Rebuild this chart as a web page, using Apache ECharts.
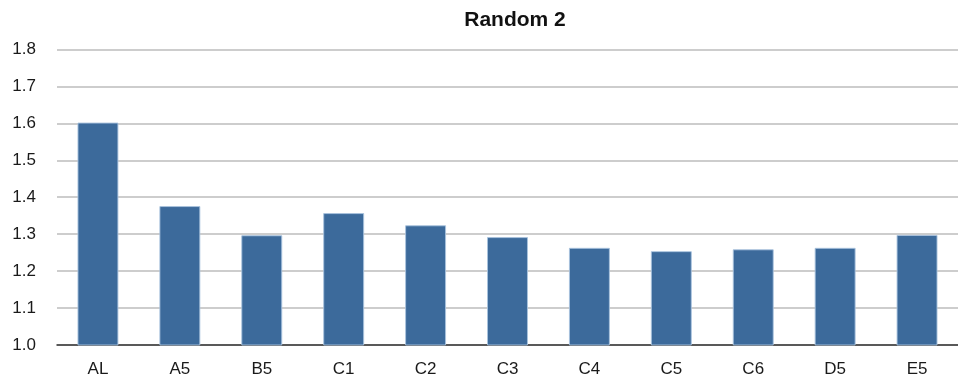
<!DOCTYPE html>
<html>
<head>
<meta charset="utf-8">
<script src="https://cdn.jsdelivr.net/npm/echarts@6/dist/echarts.min.js"></script>
<style>
  html, body { margin: 0; padding: 0; background: #fff; }
  #chart { width: 958px; height: 379px; }
</style>
</head>
<body>
<div id="chart"></div>
<script>
// Categories and values for the bar chart
const categories = ['AL', 'A5', 'B5', 'C1', 'C2', 'C3', 'C4', 'C5', 'C6', 'D5', 'E5'];
const values = [1.602, 1.376, 1.297, 1.357, 1.324, 1.292, 1.263, 1.254, 1.259, 1.263, 1.298];
const yTicks = [1.0, 1.1, 1.2, 1.3, 1.4, 1.5, 1.6, 1.7, 1.8];

const FONT = 'Liberation Sans, Arial, Helvetica, sans-serif';
const chart = echarts.init(document.getElementById('chart'), null, { renderer: 'canvas' });

chart.setOption({
  animation: false,
  backgroundColor: '#ffffff',
  title: {
    text: 'Random 2',
    left: 510,
    textAlign: 'center',
    top: 5,
    textStyle: {
      fontFamily: FONT,
      fontSize: 21,
      fontWeight: 'bold',
      color: '#111'
    }
  },
  grid: { left: 57, width: 905, top: 49.4, bottom: 34 },
  xAxis: {
    type: 'category',
    data: categories,
    axisTick: { show: false },
    axisLine: { lineStyle: { color: '#333', width: 1.5 } },
    axisLabel: {
      margin: 16,
      fontFamily: FONT,
      fontSize: 17,
      color: '#1a1a1a'
    }
  },
  yAxis: {
    type: 'value',
    min: yTicks[0],
    max: yTicks[yTicks.length - 1],
    interval: 0.1,
    axisLine: { show: false },
    axisTick: { show: false },
    splitLine: { lineStyle: { color: '#bdbdbd', width: 1.5 } },
    axisLabel: {
      margin: 21,
      fontFamily: FONT,
      fontSize: 17,
      color: '#1a1a1a',
      formatter: v => v.toFixed(1)
    }
  },
  series: [{
    type: 'bar',
    data: values,
    barWidth: '50%',
    itemStyle: {
      color: '#3c6a9b',
      borderColor: 'rgba(170,195,222,0.9)',
      borderWidth: 1
    }
  }]
});
</script>
</body>
</html>
